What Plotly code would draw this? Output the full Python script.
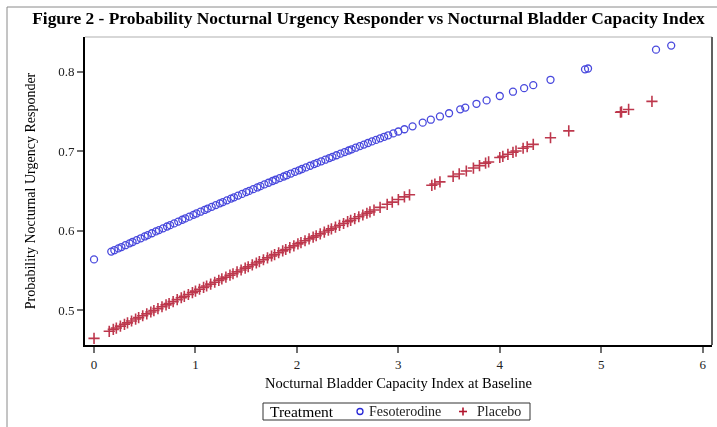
import plotly.graph_objects as go

# ---------------- data ----------------
feso_x = [0.00, 0.17, 0.20, 0.24, 0.27, 0.31, 0.35, 0.38, 0.42, 0.46, 0.50, 0.53, 0.57, 0.61,
          0.64, 0.68, 0.72, 0.75, 0.79, 0.83, 0.87, 0.90, 0.94, 0.98, 1.01, 1.05, 1.09, 1.12,
          1.16, 1.20, 1.24, 1.27, 1.31, 1.35, 1.38, 1.42, 1.46, 1.50, 1.53, 1.57, 1.61, 1.64,
          1.68, 1.72, 1.76, 1.79, 1.83, 1.87, 1.90, 1.94, 1.98, 2.02, 2.05, 2.09, 2.13, 2.17,
          2.20, 2.24, 2.28, 2.32, 2.35, 2.39, 2.43, 2.47, 2.51, 2.54, 2.58, 2.62, 2.66, 2.70,
          2.74, 2.78, 2.82, 2.86, 2.90, 2.95, 3.00, 3.06, 3.14, 3.24, 3.32, 3.41, 3.50, 3.61,
          3.66, 3.77, 3.87, 4.00, 4.13, 4.24, 4.33, 4.50, 4.84, 4.87, 5.54, 5.69]
feso_y = [0.5639, 0.5738, 0.5755, 0.5778, 0.5795, 0.5818, 0.5841, 0.5858, 0.5882, 0.5905, 0.5928,
          0.5945, 0.5968, 0.5991, 0.6008, 0.6030, 0.6053, 0.6070, 0.6092, 0.6115, 0.6138, 0.6155,
          0.6177, 0.6200, 0.6217, 0.6239, 0.6261, 0.6278, 0.6300, 0.6322, 0.6344, 0.6360, 0.6382,
          0.6404, 0.6420, 0.6442, 0.6463, 0.6485, 0.6501, 0.6523, 0.6544, 0.6560, 0.6582, 0.6603,
          0.6625, 0.6641, 0.6662, 0.6682, 0.6698, 0.6719, 0.6740, 0.6760, 0.6776, 0.6796, 0.6817,
          0.6838, 0.6853, 0.6873, 0.6893, 0.6914, 0.6929, 0.6949, 0.6969, 0.6989, 0.7009, 0.7024,
          0.7044, 0.7064, 0.7083, 0.7103, 0.7123, 0.7142, 0.7162, 0.7181, 0.7200, 0.7224, 0.7248,
          0.7276, 0.7313, 0.7359, 0.7396, 0.7437, 0.7477, 0.7526, 0.7548, 0.7596, 0.7639, 0.7694,
          0.7748, 0.7793, 0.7830, 0.7898, 0.8029, 0.8040, 0.8277, 0.8328]

plac_x = [0.00, 0.15, 0.19, 0.22, 0.26, 0.30, 0.33, 0.37, 0.41, 0.44, 0.48, 0.52, 0.56, 0.59,
          0.63, 0.67, 0.71, 0.74, 0.78, 0.82, 0.86, 0.89, 0.93, 0.97, 1.00, 1.04, 1.08, 1.11,
          1.15, 1.19, 1.23, 1.26, 1.30, 1.34, 1.37, 1.41, 1.45, 1.49, 1.52, 1.56, 1.60, 1.63,
          1.67, 1.71, 1.75, 1.78, 1.82, 1.86, 1.89, 1.93, 1.97, 2.01, 2.04, 2.08, 2.12, 2.16,
          2.19, 2.23, 2.27, 2.31, 2.34, 2.38, 2.42, 2.46, 2.50, 2.53, 2.57, 2.61, 2.65, 2.69,
          2.72, 2.76, 2.82, 2.89, 2.94, 3.00, 3.06, 3.11, 3.33, 3.36, 3.41, 3.54, 3.60, 3.67,
          3.74, 3.80, 3.86, 3.89, 4.00, 4.03, 4.08, 4.13, 4.16, 4.23, 4.27, 4.33, 4.50, 4.68,
          5.19, 5.20, 5.27, 5.50]
plac_y = [0.4646, 0.4735, 0.4759, 0.4776, 0.4800, 0.4823, 0.4841, 0.4865, 0.4889, 0.4907, 0.4931,
          0.4954, 0.4978, 0.4996, 0.5020, 0.5044, 0.5067, 0.5085, 0.5109, 0.5133, 0.5157, 0.5175,
          0.5198, 0.5222, 0.5240, 0.5264, 0.5287, 0.5305, 0.5328, 0.5352, 0.5376, 0.5394, 0.5417,
          0.5441, 0.5459, 0.5483, 0.5506, 0.5530, 0.5547, 0.5571, 0.5594, 0.5612, 0.5635, 0.5658,
          0.5682, 0.5699, 0.5723, 0.5746, 0.5764, 0.5787, 0.5810, 0.5834, 0.5851, 0.5874, 0.5897,
          0.5920, 0.5937, 0.5960, 0.5983, 0.6006, 0.6023, 0.6046, 0.6068, 0.6091, 0.6114, 0.6130,
          0.6153, 0.6176, 0.6198, 0.6220, 0.6237, 0.6260, 0.6293, 0.6332, 0.6359, 0.6392, 0.6425,
          0.6452, 0.6571, 0.6587, 0.6614, 0.6683, 0.6714, 0.6751, 0.6788, 0.6819, 0.6850, 0.6865,
          0.6921, 0.6936, 0.6961, 0.6986, 0.7002, 0.7037, 0.7056, 0.7086, 0.7169, 0.7255, 0.7490,
          0.7494, 0.7525, 0.7626]

x_ticks = [0, 1, 2, 3, 4, 5, 6]
y_ticks = [0.5, 0.6, 0.7, 0.8]
series_names = ["Fesoterodine", "Placebo"]
legend_title = "Treatment"

title_text = "Figure 2 - Probability Nocturnal Urgency Responder vs Nocturnal Bladder Capacity Index"
x_title = "Nocturnal Bladder Capacity Index at Baseline"
y_title = "Probability Nocturnal Urgency Responder"

# ---------------- styling ----------------
SERIF = "Liberation Serif, Times New Roman, serif"
BLUE = "rgb(40,40,215)"
RED = "rgb(178,20,45)"

W, H = 717, 427
ML, MR, MT, MB = 85, 5, 37, 82
PW, PH = W - ML - MR, H - MT - MB


def px2paper_x(px):
    return (px - ML) / PW


def px2paper_y(py):
    return (H - MB - py) / PH


fig = go.Figure()
fig.add_trace(go.Scatter(
    x=feso_x, y=feso_y, mode="markers", name=series_names[0],
    marker=dict(symbol="circle-open", size=7, color=BLUE, line=dict(width=1.3, color=BLUE)),
    opacity=0.85, showlegend=False,
))
fig.add_trace(go.Scatter(
    x=plac_x, y=plac_y, mode="markers", name=series_names[1],
    marker=dict(symbol="cross-thin-open", size=8, color=RED, line=dict(width=1.6, color=RED)),
    opacity=0.85, showlegend=False,
))

# ---- compact legend box (as in the reference) ----
LG_Y = 411.5
shapes = [
    # outer border (left and top visible)
    dict(type="line", xref="paper", yref="paper",
         x0=px2paper_x(7), x1=px2paper_x(730), y0=px2paper_y(7), y1=px2paper_y(7),
         line=dict(color="#8a8a8a", width=1)),
    dict(type="line", xref="paper", yref="paper",
         x0=px2paper_x(7), x1=px2paper_x(7), y0=px2paper_y(7), y1=px2paper_y(440),
         line=dict(color="#8a8a8a", width=1)),
    # plot frame top and right
    dict(type="line", xref="paper", yref="paper", x0=0, x1=1, y0=1, y1=1,
         line=dict(color="#b0b0b0", width=1.2)),
    dict(type="line", xref="paper", yref="paper", x0=1, x1=1, y0=0, y1=1,
         line=dict(color="#606060", width=2)),
    # legend frame
    dict(type="rect", xref="paper", yref="paper",
         x0=px2paper_x(263), x1=px2paper_x(530), y0=px2paper_y(420), y1=px2paper_y(403),
         line=dict(color="#333333", width=1), fillcolor="white"),
    # legend key: circle
    dict(type="circle", xref="paper", yref="paper",
         x0=px2paper_x(357), x1=px2paper_x(363), y0=px2paper_y(LG_Y + 3), y1=px2paper_y(LG_Y - 3),
         line=dict(color=BLUE, width=1.3)),
    # legend key: plus
    dict(type="line", xref="paper", yref="paper",
         x0=px2paper_x(459), x1=px2paper_x(467), y0=px2paper_y(LG_Y), y1=px2paper_y(LG_Y),
         line=dict(color=RED, width=1.6)),
    dict(type="line", xref="paper", yref="paper",
         x0=px2paper_x(463), x1=px2paper_x(463), y0=px2paper_y(LG_Y - 4), y1=px2paper_y(LG_Y + 4),
         line=dict(color=RED, width=1.6)),
]

annotations = [
    dict(text=legend_title, xref="paper", yref="paper", x=px2paper_x(268), y=px2paper_y(LG_Y),
         xanchor="left", yanchor="middle", showarrow=False,
         font=dict(family=SERIF, size=15.5, color="black")),
    dict(text=series_names[0], xref="paper", yref="paper", x=px2paper_x(367), y=px2paper_y(LG_Y),
         xanchor="left", yanchor="middle", showarrow=False,
         font=dict(family=SERIF, size=14, color="#222")),
    dict(text=series_names[1], xref="paper", yref="paper", x=px2paper_x(475), y=px2paper_y(LG_Y),
         xanchor="left", yanchor="middle", showarrow=False,
         font=dict(family=SERIF, size=14, color="#222")),
]

fig.update_layout(
    width=W, height=H,
    margin=dict(l=ML, r=MR, t=MT, b=MB, pad=0),
    paper_bgcolor="white", plot_bgcolor="white",
    font=dict(family=SERIF, size=13, color="black"),
    title=dict(text="<b>" + title_text + "</b>", x=368.5 / W, xref="container", xanchor="center",
               y=1 - 18 / H, yref="container", yanchor="middle",
               font=dict(family=SERIF, size=17.4, color="black")),
    xaxis=dict(range=[-0.089, 6.092], tickvals=x_ticks, ticktext=[str(v) for v in x_ticks],
               showgrid=False, zeroline=False, showline=True, linecolor="black", linewidth=2,
               ticks="outside", ticklen=6, tickwidth=1.5, tickcolor="#707070",
               tickfont=dict(family=SERIF, size=13, color="#222"),
               title=dict(text=x_title, font=dict(family=SERIF, size=14.5, color="black"), standoff=7)),
    yaxis=dict(range=[0.4563, 0.8436], tickvals=y_ticks, ticktext=["%.1f" % v for v in y_ticks],
               showgrid=False, zeroline=False, showline=True, linecolor="black", linewidth=2,
               ticks="outside", ticklen=6, tickwidth=1.5, tickcolor="#707070",
               tickfont=dict(family=SERIF, size=13, color="#222"),
               title=dict(text=y_title, font=dict(family=SERIF, size=14, color="black"), standoff=19)),
    showlegend=False,
    shapes=shapes,
    annotations=annotations,
)

fig.write_html("out.html", config={"displayModeBar": False},
               post_script="document.body.style.margin='0';document.body.style.padding='0';")
